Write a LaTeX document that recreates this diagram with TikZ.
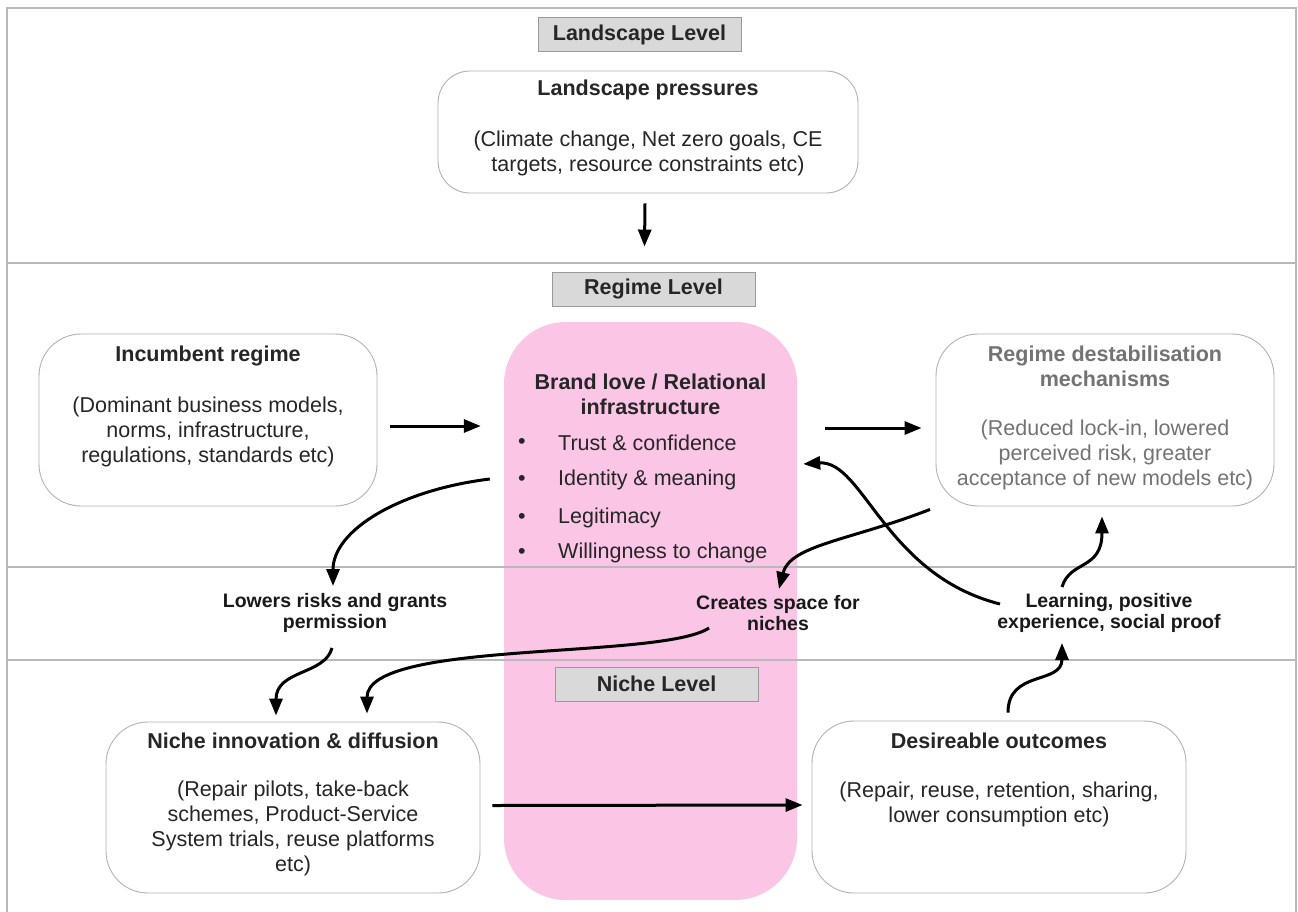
\documentclass[tikz,border=0pt]{standalone}
\usepackage{fontspec}
\setmainfont{Liberation Sans}
\usetikzlibrary{positioning,calc,arrows.meta}
\definecolor{brandpink}{RGB}{251,197,230}
\tikzset{
	box/.style={draw=gray!60, line width=0.9pt, rounded corners=42pt, inner sep=0pt},
	lvl/.style={draw=gray!80, fill=gray!30, line width=0.9pt, minimum width=203pt, minimum height=34pt, inner sep=0pt, font=\fontsize{21.5}{25}\selectfont\bfseries, text=black!85},
	ttl/.style={align=center, inner sep=0pt, font=\fontsize{21.5}{25}\selectfont\bfseries, text=black!85},
	txt/.style={align=center, inner sep=0pt, font=\fontsize{21.5}{25}\selectfont, text=black!85},
	lbl/.style={align=center, inner sep=0pt, font=\fontsize{19.5}{21.5}\selectfont\bfseries, text=black!90},
	arr/.style={-{Triangle[length=17pt,width=13pt]}, line width=3pt},
	band/.style={draw=gray!55, line width=1.2pt}
}

\begin{document}
\begin{tikzpicture}[x=1pt, y=-1pt]
	\useasboundingbox (0,0) rectangle (1298,911);
	\fill[white] (0,0) rectangle (1298,911);

	% pink column
	\node[fill=brandpink, rounded corners=62pt, inner sep=0pt, minimum width=293pt, minimum height=578pt] (bl) at (650.5,611) {};

	% level bands
	\draw[band] (7,915) -- (7,8) -- (1296,8) -- (1296,915);
	\draw[band] (7,263) -- (1296,263);
	\draw[band] (7,567) -- (1296,567);
	\draw[band] (7,660) -- (1296,660);

	\node[lvl] (ll) at (639.5,34.5) {Landscape Level};
	\node[lvl] (rl) at (653.5,289)  {Regime Level};
	\node[lvl] (nl) at (656.5,684)  {Niche Level};

	% boxes
	\node[box, rounded corners=32pt, minimum width=420pt, minimum height=122pt] (lp) at (648,132) {};
	\node[box, minimum width=338pt, minimum height=172pt] (ir) at (208,420)   {};
	\node[box, minimum width=338pt, minimum height=172pt] (rd) at (1105,420)  {};
	\node[box, minimum width=374pt, minimum height=171pt] (ni) at (293,807.5) {};
	\node[box, minimum width=374pt, minimum height=172pt] (dc) at (999,807)   {};

	\node[ttl] (lpt) at (648,90)    {Landscape pressures};
	\node[txt] (lpb) at (648,153.5) {(Climate change, Net zero goals, CE\\targets, resource constraints etc)};
	\node[ttl] (irt) at (208,356)   {Incumbent regime};
	\node[txt] (irb) at (208,432)   {(Dominant business models,\\norms, infrastructure,\\regulations, standards etc)};
	\node[ttl, text=black!55] (rdt) at (1105,366.5) {Regime destabilisation\\mechanisms};
	\node[txt, text=black!55] (rdb) at (1105,455)   {(Reduced lock-in, lowered\\perceived risk, greater\\acceptance of new models etc)};
	\node[ttl] (nit) at (293,741)   {Niche innovation \& diffusion};
	\node[txt] (nib) at (293,828.5) {(Repair pilots, take-back\\schemes, Product-Service\\System trials, reuse platforms\\etc)};
	\node[ttl] (dct) at (999,741)   {Desireable outcomes};
	\node[txt] (dcb) at (999,804.5) {(Repair, reuse, retention, sharing,\\lower consumption etc)};

	\node[ttl] (blt) at (650.5,394.5) {Brand love / Relational\\infrastructure};
	\foreach \i/\y/\t in {1/443/Trust \& confidence, 2/480/Identity \& meaning, 3/518/Legitimacy, 4/553/Willingness to change}{
		\node[txt] (bd\i) at (522,\y) {\textbullet};
		\node[txt, anchor=west] (bi\i) at (558,\y) {\t};
	}

	% labels between levels
	\node[lbl] (lr) at (335,613)  {Lowers risks and grants\\permission};
	\node[lbl] (cs) at (778,613)  {Creates space for\\niches};
	\node[lbl] (lg) at (1109,613) {Learning, positive\\experience, social proof};

	% straight arrows
	\draw[arr] ($(lp.south)+(-3,10)$) -- ($(rl.north)+(-9,-25)$);
	\draw[arr] ($(ir.east)+(13,6)$)   -- ($(bl.west |- ir.east)+(-23,6)$);
	\draw[arr] ($(bl.east |- rd.west)+(28,8)$) -- ($(rd.west)+(-14,8)$);
	\draw[arr] ($(ni.east)+(12,-2)$)  -- ($(dc.west)+(-9,-2)$);

	% curved arrows
	\draw[arr] ($(bl.west)+(-14,-132)$) .. controls ($(bl.west)+(-104,-121)$) and ($(lr.center)+(-2,-83)$) .. ($(lr.center)+(-2,-27)$);
	\draw[arr] ($(lr.center)+(-3,35)$) .. controls ($(lr.center)+(-10,62)$) and ($(ni.north)+(-17,-52)$) .. ($(ni.north)+(-17,-6)$);
	\draw[arr] ($(cs.center)+(-69,15)$) .. controls ($(cs.center)+(-118,47)$) and ($(ni.north)+(74,-82)$) .. ($(ni.north)+(74,-8)$);
	\draw[arr] ($(rd.south)+(-175,3)$) .. controls ($(rd.south)+(-255,34)$) and ($(cs.center)+(12,-68)$) .. ($(cs.center)+(1,-24)$);
	\draw[arr] ($(lg.center)+(-109,-9)$) .. controls ($(lg.center)+(-224,-38)$) and ($(bl.east)+(66,-151)$) .. ($(bl.east)+(6,-147)$);
	\draw[arr] ($(lg.center)+(-47,-26)$) .. controls ($(lg.center)+(-39,-53)$) and ($(rd.south)+(-3,64)$) .. ($(rd.south)+(-3,10)$);
	\draw[arr] ($(dc.north)+(9,-8)$) .. controls ($(dc.north)+(9,-51)$) and ($(lg.center)+(-47,72)$) .. ($(lg.center)+(-47,30)$);
\end{tikzpicture}
\end{document}
